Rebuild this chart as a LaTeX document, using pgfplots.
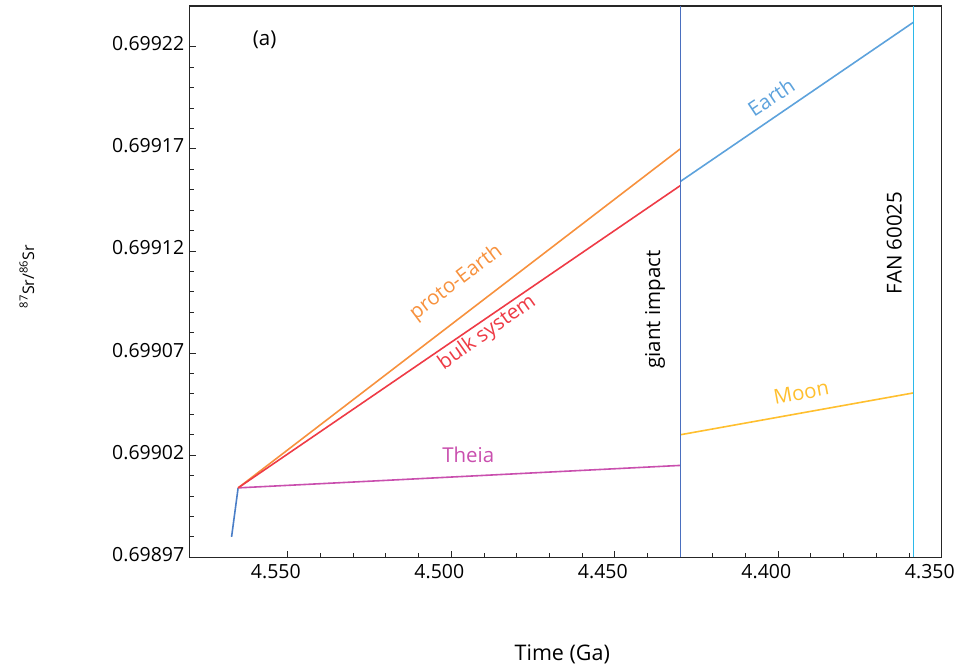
\documentclass[border=0pt]{standalone}
\usepackage{fontspec}
\setmainfont{Open Sans}
\usepackage{pgfplots}
\pgfplotsset{compat=1.18}
\definecolor{cinit}{HTML}{4A7EC7}
\definecolor{cproto}{HTML}{F7913D}
\definecolor{cbulk}{HTML}{EE3B46}
\definecolor{ctheia}{HTML}{C94FAE}
\definecolor{cearth}{HTML}{5DA2DC}
\definecolor{cmoon}{HTML}{FFBF2E}
\definecolor{cgi}{HTML}{4A6FBF}
\definecolor{cfan}{HTML}{2BB8EA}
\newcommand{\lbl}{\fontsize{20.5}{24}\selectfont}
\begin{document}
\begin{tikzpicture}
\begin{axis}[
  width=753pt, height=552pt, scale only axis,
  x dir=reverse,
  xmin=4.35, xmax=4.58, ymin=0.69897, ymax=0.69924,
  xtick={4.35,4.40,4.45,4.50,4.55},
  ytick={0.69897,0.69902,0.69907,0.69912,0.69917,0.69922},
  minor x tick num=4, minor y tick num=4,
  tick pos=left, tick align=inside,
  major tick length=6.5pt, minor tick length=4pt,
  axis line style={line width=1.4pt, black!85},
  every tick/.style={black!85, line width=1pt},
  /pgf/number format/assume math mode=true,
  xticklabel={\pgfmathprintnumber[fixed,fixed zerofill,precision=3]{\tick}},
  yticklabel={\pgfmathprintnumber[fixed,fixed zerofill,precision=5]{\tick}},
  xticklabel style={font=\fontsize{19.5}{22}\selectfont, xshift=-12pt, yshift=-4pt},
  yticklabel style={font=\fontsize{19.5}{22}\selectfont, yshift=3pt, xshift=-2pt},
  clip=false,
]
% data
\addplot[cinit, line width=1.6pt] coordinates {(4.5672,0.698980) (4.5652,0.699004)};
\addplot[ctheia, line width=1.6pt] coordinates {(4.5652,0.699004) (4.43,0.699015)};
\addplot[cproto, line width=1.6pt] coordinates {(4.5652,0.699004) (4.43,0.699170)};
\addplot[cbulk, line width=1.6pt] coordinates {(4.5652,0.699004) (4.43,0.699152)};
\addplot[cearth, line width=1.6pt] coordinates {(4.43,0.699154) (4.3587,0.699232)};
\addplot[cmoon, line width=1.6pt] coordinates {(4.43,0.699030) (4.3587,0.6990505)};
\addplot[cgi, line width=1.3pt] coordinates {(4.43,0.69897) (4.43,0.69924)};
\addplot[cfan, line width=1.6pt] coordinates {(4.3587,0.69897) (4.3587,0.69924)};
% labels
\node[font=\lbl] at (axis cs:4.5571,0.6992234) {(a)};
\node[font=\lbl, text=cproto, rotate=37] at (axis cs:4.4985,0.6991045) {proto-Earth};
\node[font=\lbl, text=cbulk, rotate=35.4] at (axis cs:4.489,0.69908) {bulk system};
\node[font=\lbl, text=ctheia] at (axis cs:4.4948,0.6990204) {Theia};
\node[font=\lbl, text=cearth, rotate=33.7] at (axis cs:4.4022,0.6991955) {Earth};
\node[font=\lbl, text=cmoon, rotate=10.5] at (axis cs:4.393,0.6990507) {Moon};
\node[font=\lbl, rotate=90] at (axis cs:4.4377,0.6990913) {giant impact};
\node[font=\lbl, rotate=90] at (axis cs:4.3645,0.699124) {FAN 60025};
\node[font=\fontsize{21.5}{24}\selectfont] at (rel axis cs:0.4954,-0.1757) {Time (Ga)};
\node[font=\fontsize{16}{19}\selectfont, rotate=90] at (rel axis cs:-0.2165,0.509) {\textsuperscript{87}Sr/\textsuperscript{86}Sr};
\path (rel axis cs:-0.2523,-0.2029) rectangle (rel axis cs:1.0199,1.0109);
\end{axis}
\end{tikzpicture}
\end{document}
